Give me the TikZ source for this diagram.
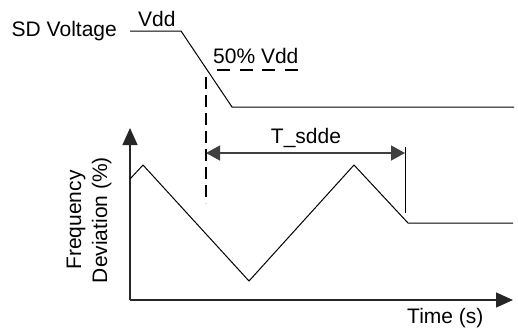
\documentclass[tikz,border=0pt]{standalone}
\usepackage{fontspec}
\setmainfont{Liberation Sans}
\usetikzlibrary{arrows.meta}
\begin{document}
\begin{tikzpicture}[x=1pt,y=-1pt,
  lbl/.style={inner sep=0pt,font=\fontsize{21pt}{26pt}\selectfont},
  wave/.style={line width=1pt,black},
  axis/.style={line width=1.2pt,black!85,-{Triangle[width=15pt,length=17pt]}},
  dimarrow/.style={line width=1.5pt,black!75,{Triangle[width=15pt,length=14pt]}-{Triangle[width=15pt,length=14pt]}},
  vdash/.style={line width=1.3pt,black,dash pattern=on 12pt off 6pt},
  hdash/.style={line width=1.6pt,black,dash pattern=on 13pt off 9.67pt}]
\useasboundingbox (0,0) rectangle (518,330);
% labels
\node[lbl,anchor=base east] (sdv) at (117,36) {SD Voltage};
\node[lbl,anchor=base west] (vdd) at (138,26) {Vdd};
\node[lbl,anchor=base west] (half) at (213,63) {50\% Vdd};
\node[lbl,anchor=base] (tsdde) at (306,143) {T\_sdde};
\node[lbl,anchor=base west] (time) at (407,323) {Time (s)};
\node[lbl,rotate=90,align=center] (freq) at (89,220) {Frequency\\Deviation (\%)};
% SD voltage waveform
\coordinate (v0) at (130,31);
\coordinate (v1) at (181,31);
\coordinate (v2) at (232,107);
\coordinate (v3) at (514,107);
\draw[wave] (v0) -- (v1) -- (v2) -- (v3);
% 50% dashed
\coordinate (h0) at (217,70);
\coordinate (h1) at (298,70);
\draw[hdash] (h0) -- (h1);
% vertical dashed
\coordinate (d0) at (206,77);
\coordinate (d1) at (206,203);
\draw[vdash] (d0) -- (d1);
% axes
\coordinate (o) at (130,300);
\coordinate (ytip) at (130,128);
\coordinate (xtip) at (513,300);
\draw[axis] (o) -- (ytip);
\draw[axis] (o) -- (xtip);
% frequency waveform
\coordinate (f0) at (130,179);
\coordinate (f1) at (143,165);
\coordinate (f2) at (249,281);
\coordinate (f3) at (354,165);
\coordinate (f4) at (408,223);
\coordinate (f5) at (513,223);
\draw[wave] (f0) -- (f1) -- (f2) -- (f3) -- (f4) -- (f5);
% end marker
\coordinate (m0) at (405,147);
\coordinate (m1) at (405,213);
\draw[wave] (m0) -- (m1);
% T_sdde arrow
\coordinate (a0) at (206,153);
\coordinate (a1) at (405,153);
\draw[dimarrow] (a0) -- (a1);
\end{tikzpicture}
\end{document}
